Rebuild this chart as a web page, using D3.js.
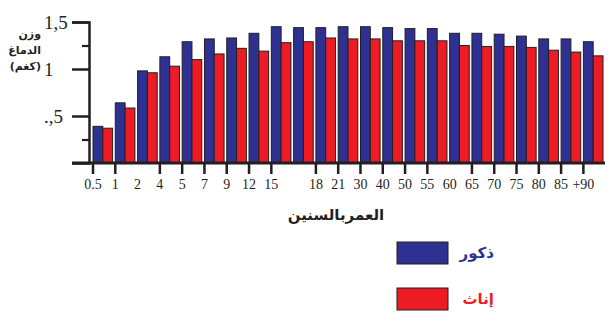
<!DOCTYPE html>
<html>
  <head>
    <meta charset="utf-8">
    <script src="https://cdn.jsdelivr.net/npm/d3@7"></script>
    <style>
      body { margin: 0; background: #ffffff; }
      svg { display: block; }
    </style>
  </head>
  <body>
    <script>
      // age groups, one per pair of bars (the 10th pair has no label)
      var ages = ["0.5", "1", "2", "4", "5", "7", "9", "12", "15", "",
                  "18", "21", "30", "40", "50", "55", "60", "65", "70",
                  "75", "80", "85", "+90"];
      // brain weight in kg
      var males = [0.39, 0.64, 0.98, 1.13, 1.29, 1.32, 1.33, 1.38, 1.45, 1.44,
                   1.44, 1.45, 1.45, 1.44, 1.43, 1.43, 1.38, 1.38, 1.37, 1.35,
                   1.32, 1.32, 1.29];
      var females = [0.37, 0.585, 0.96, 1.03, 1.10, 1.16, 1.22, 1.19, 1.28, 1.29,
                     1.33, 1.32, 1.32, 1.30, 1.30, 1.30, 1.25, 1.24, 1.24, 1.23,
                     1.20, 1.18, 1.14];
      // pairs without a tick mark under them
      var noTick = [2, 9, 16];
      var yMajor = [0.5, 1, 1.5];
      var yMinor = [0.25, 1.25];
      var yLabels = [".,5", "1", "1,5"];
      var series = ["ذكور", "إناث"];
      var colors = ["#2e3192", "#ed1c24"];

      var width = 615, height = 328;
      var ink = "#231f20";

      var svg = d3.select("body").append("svg")
                  .attr("width", width)
                  .attr("height", height);

      var x = d3.scaleBand()
                .domain(d3.range(ages.length))
                .range([93, 603])
                .paddingInner(0.12)
                .paddingOuter(0)
                .align(0);
      var xSex = d3.scaleBand()
                   .domain([0, 1])
                   .range([0, x.bandwidth()]);
      var y = d3.scaleLinear()
                .domain([0, 1.5])
                .range([163, 22]);

      // bars
      var groups = svg.append("g").selectAll("g")
                      .data(d3.range(ages.length))
                      .join("g")
                      .attr("transform", function(i) { return "translate(" + x(i) + ",0)"; });
      groups.selectAll("rect")
            .data(function(i) { return [males[i], females[i]]; })
            .join("rect")
            .attr("x", function(d, k) { return xSex(k); })
            .attr("y", function(d) { return y(d); })
            .attr("width", xSex.bandwidth())
            .attr("height", function(d) { return y(0) - y(d); })
            .attr("fill", function(d, k) { return colors[k]; })
            .attr("stroke", ink)
            .attr("stroke-width", 1);

      // x axis, ticks at the left edge of each pair
      var xAxis = svg.append("g")
                     .attr("transform", "translate(0," + y(0) + ")")
                     .call(d3.axisBottom(x)
                             .tickSize(11)
                             .tickPadding(5)
                             .tickFormat(function(i) { return ages[i]; }));
      xAxis.select(".domain").remove();
      xAxis.selectAll(".tick")
           .attr("transform", function(i) { return "translate(" + x(i) + ",0)"; });
      xAxis.selectAll(".tick line")
           .attr("stroke", ink)
           .attr("stroke-width", 2.5)
           .attr("display", function(i) { return noTick.indexOf(i) >= 0 ? "none" : null; });
      xAxis.selectAll(".tick text")
           .attr("fill", ink)
           .style("font-family", "'Liberation Serif', serif")
           .style("font-size", "14px");

      // baseline
      svg.append("line")
         .attr("x1", 72).attr("x2", 605)
         .attr("y1", y(0)).attr("y2", y(0))
         .attr("stroke", ink)
         .attr("stroke-width", 3);

      // y axis
      var yAxis = svg.append("g")
                     .attr("transform", "translate(89,0)")
                     .call(d3.axisLeft(y)
                             .tickValues(yMajor)
                             .tickSize(17)
                             .tickFormat(function(d, i) { return yLabels[i]; }));
      yAxis.select(".domain")
           .attr("stroke", ink)
           .attr("stroke-width", 2.5);
      yAxis.selectAll(".tick line")
           .attr("stroke", ink)
           .attr("stroke-width", 2.5);
      yAxis.selectAll(".tick text")
           .attr("x", -45)
           .attr("text-anchor", "start")
           .attr("fill", ink)
           .style("font-family", "'Liberation Serif', serif")
           .style("font-size", "19px");
      var yMinorAxis = svg.append("g")
                          .attr("transform", "translate(89,0)")
                          .call(d3.axisLeft(y)
                                  .tickValues(yMinor)
                                  .tickSize(7)
                                  .tickFormat(""));
      yMinorAxis.select(".domain").remove();
      yMinorAxis.selectAll(".tick line")
                .attr("stroke", ink)
                .attr("stroke-width", 2.2);

      // y axis title
      var yTitle = ["وزن", "الدماغ", "(كغم)"];
      svg.append("g").selectAll("text")
         .data(yTitle)
         .join("text")
         .attr("x", 41)
         .attr("y", function(d, i) { return 38 + i * 16; })
         .attr("text-anchor", "end")
         .attr("fill", ink)
         .style("font-family", "'DejaVu Sans', sans-serif")
         .style("font-weight", "bold")
         .style("font-size", "11px")
         .text(function(d) { return d; });

      // x axis title
      svg.append("text")
         .attr("x", 336)
         .attr("y", 220)
         .attr("text-anchor", "middle")
         .attr("fill", ink)
         .style("font-family", "'DejaVu Sans', sans-serif")
         .style("font-weight", "bold")
         .style("font-size", "15px")
         .text("العمربالسنين");

      // legend
      var legend = svg.append("g").selectAll("g")
                      .data(series)
                      .join("g")
                      .attr("transform", function(d, i) { return "translate(397," + (242 + i * 46) + ")"; });
      legend.append("rect")
            .attr("width", 51)
            .attr("height", 22)
            .attr("fill", function(d, i) { return colors[i]; })
            .attr("stroke", ink)
            .attr("stroke-width", 1);
      legend.append("text")
            .attr("x", 97)
            .attr("y", 16)
            .attr("text-anchor", "end")
            .attr("fill", function(d, i) { return colors[i]; })
            .style("font-family", "'DejaVu Sans', sans-serif")
            .style("font-weight", "bold")
            .style("font-size", "15px")
            .text(function(d) { return d; });
    </script>
  </body>
</html>
